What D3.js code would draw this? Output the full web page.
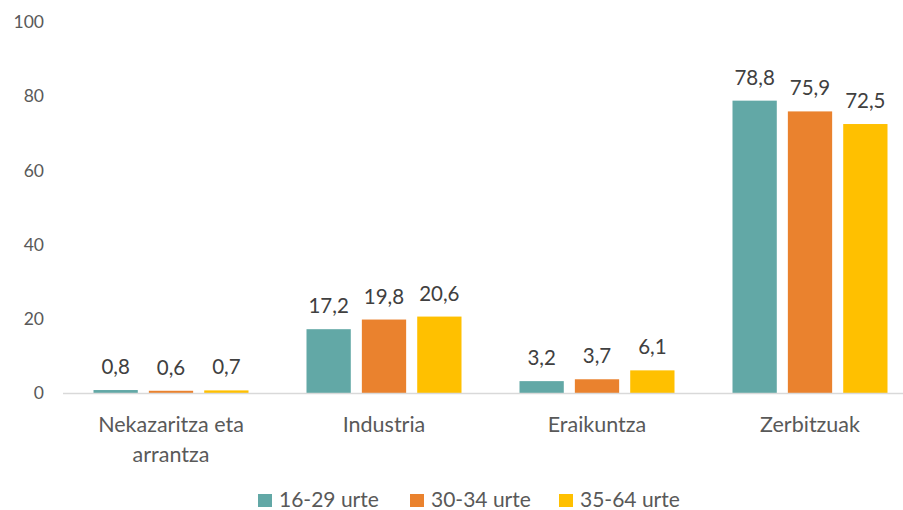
<!DOCTYPE html>
<html>
<head>
<meta charset="utf-8">
<script src="https://cdn.jsdelivr.net/npm/d3@7"></script>
<style>
  body { margin: 0; background: #fff; }
  svg { font-family: Lato, "Open Sans", sans-serif; }
</style>
</head>
<body>
<svg id="chart" width="903" height="510"></svg>
<script>
// chart data
const categories = [["Nekazaritza eta", "arrantza"], ["Industria"], ["Eraikuntza"], ["Zerbitzuak"]];
const seriesNames = ["16-29 urte", "30-34 urte", "35-64 urte"];
const seriesColors = ["#62A8A6", "#EA822E", "#FFC000"];
const values1629 = [0.8, 17.2, 3.2, 78.8];
const values3034 = [0.6, 19.8, 3.7, 75.9];
const values3564 = [0.7, 20.6, 6.1, 72.5];
const yTicks = [0, 20, 40, 60, 80, 100];

const series = [values1629, values3034, values3564];

const svg = d3.select('#chart');
const plotTop = 22, plotBottom = 393;

// scales
const x0 = d3.scaleBand()
    .domain(categories.map((c, i) => i))
    .range([64.5, 916.5]);

const x1 = d3.scaleBand()
    .domain(seriesNames.map((s, i) => i))
    .range([29, 184])
    .paddingInner(0.2);

const y = d3.scaleLinear().domain([0, 100]).range([plotBottom, plotTop]);

// y axis (labels only)
const yAxis = d3.axisLeft(y).tickValues(yTicks).tickSize(0).tickPadding(0);
const yg = svg.append('g')
    .attr('transform', 'translate(44,0)')
    .call(yAxis);
yg.select('.domain').remove();
yg.selectAll('text')
    .attr('font-size', 17.5)
    .attr('font-family', 'Lato, sans-serif')
    .attr('fill', '#595959');

// bars
const groups = svg.selectAll('.cat')
    .data(categories)
    .enter()
    .append('g')
    .attr('class', 'cat')
    .attr('transform', (d, i) => 'translate(' + x0(i) + ',0)');

groups.each(function (c, ci) {
  const g = d3.select(this);
  series.forEach(function (vals, si) {
    g.append('rect')
      .attr('x', x1(si))
      .attr('y', y(vals[ci]))
      .attr('width', x1.bandwidth())
      .attr('height', plotBottom - y(vals[ci]))
      .attr('fill', seriesColors[si]);
    g.append('text')
      .attr('x', x1(si) + x1.bandwidth() / 2)
      .attr('y', y(vals[ci]) - 16)
      .attr('text-anchor', 'middle')
      .attr('font-size', 20.5)
      .attr('fill', '#404040')
      .text(String(vals[ci]).replace('.', ','));
  });
});

// baseline
svg.append('line')
    .attr('x1', 63).attr('x2', 903)
    .attr('y1', plotBottom + 0.5).attr('y2', plotBottom + 0.5)
    .attr('stroke', '#D9D9D9')
    .attr('stroke-width', 1.5);

// category labels
groups.append('text')
    .attr('x', x0.bandwidth() / 2)
    .attr('y', 432)
    .attr('text-anchor', 'middle')
    .attr('font-size', 21.5)
    .attr('fill', '#595959')
    .selectAll('tspan')
    .data(d => d)
    .enter()
    .append('tspan')
    .attr('x', x0.bandwidth() / 2)
    .attr('dy', (d, i) => i === 0 ? 0 : 30)
    .text(d => d);

// legend
const legendX = [258, 410, 559];
const legend = svg.selectAll('.legend')
    .data(seriesNames)
    .enter()
    .append('g')
    .attr('class', 'legend')
    .attr('transform', (d, i) => 'translate(' + legendX[i] + ',494)');
legend.append('rect')
    .attr('width', 14).attr('height', 13)
    .attr('fill', (d, i) => seriesColors[i]);
legend.append('text')
    .attr('x', 21)
    .attr('y', 13)
    .attr('font-size', 21)
    .attr('fill', '#595959')
    .text(d => d);
</script>
</body>
</html>
